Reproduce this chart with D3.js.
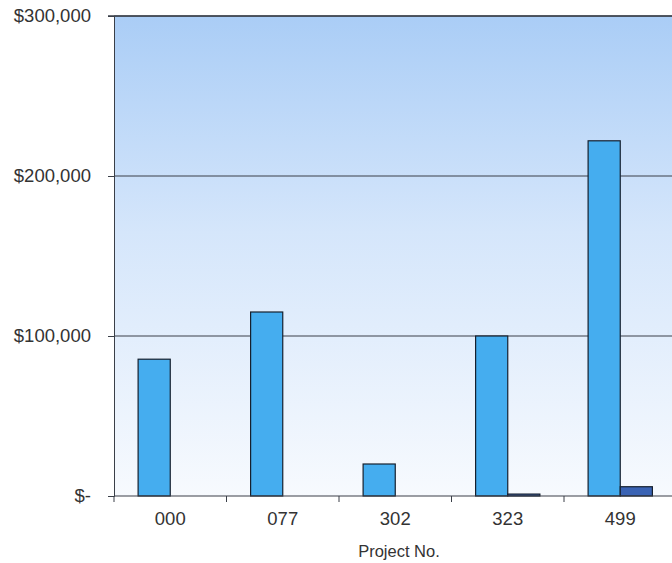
<!DOCTYPE html>
<html>
<head>
<meta charset="utf-8">
<script src="https://cdn.jsdelivr.net/npm/d3@7"></script>
<style>
body { margin: 0; background: #fff; }
svg { display: block; font-family: "Liberation Sans", Arial, sans-serif; }
</style>
</head>
<body>
<svg id="vis" width="672" height="563"></svg>
<script>
// chart data
var projects = ["000", "077", "302", "323", "499"];
var seriesA = [85500, 115000, 20000, 100000, 222000];
var seriesB = [0, 0, 0, 1200, 5800];
var yTicks = [0, 100000, 200000, 300000];

var svg = d3.select("#vis"),
	margin = {top: 16, left: 114, bottom: 67},
	width = 672,
	height = 563;

// plot area runs off the right edge of the picture
var plotRight = margin.left + 112.5 * projects.length;

var xScale = d3.scaleBand().domain(projects).range([margin.left, plotRight]);
var yScale = d3.scaleLinear().domain([0, 300000]).range([height - margin.bottom, margin.top]);

var sub = d3.scaleBand().domain(["a", "b"]).range([0, xScale.bandwidth()]).paddingOuter(0.75).paddingInner(0);

var defs = svg.append("defs");
var grad = defs.append("linearGradient").attr("id", "bg").attr("x1", 0).attr("y1", 0).attr("x2", 0).attr("y2", 1);
grad.append("stop").attr("offset", "0%").attr("stop-color", "#aacdf6");
grad.append("stop").attr("offset", "45%").attr("stop-color", "#d5e6fb");
grad.append("stop").attr("offset", "100%").attr("stop-color", "#f7fafe");

svg.append("rect")
	.attr("x", margin.left).attr("y", margin.top)
	.attr("width", plotRight - margin.left)
	.attr("height", yScale(0) - margin.top)
	.attr("fill", "url(#bg)");

// gridlines
svg.append("g").selectAll("line")
	.data(yTicks.slice(1))
	.enter().append("line")
	.attr("x1", margin.left).attr("x2", plotRight)
	.attr("y1", function(d) { return yScale(d); })
	.attr("y2", function(d) { return yScale(d); })
	.attr("stroke", "#3a3f48").attr("stroke-width", 1);

// bars
var groups = svg.append("g").selectAll("g")
	.data(projects)
	.enter().append("g")
	.attr("transform", function(d) { return "translate(" + xScale(d) + ",0)"; });

groups.append("rect")
	.attr("x", sub("a"))
	.attr("width", sub.bandwidth())
	.attr("y", function(d, i) { return yScale(seriesA[i]); })
	.attr("height", function(d, i) { return yScale(0) - yScale(seriesA[i]); })
	.attr("fill", "#45adef").attr("stroke", "#16202e").attr("stroke-width", 1.2);

groups.append("rect")
	.attr("x", sub("b"))
	.attr("width", sub.bandwidth())
	.attr("y", function(d, i) { return yScale(seriesB[i]); })
	.attr("height", function(d, i) { return yScale(0) - yScale(seriesB[i]); })
	.attr("fill", "#3a63b4").attr("stroke", "#16202e").attr("stroke-width", function(d, i) { return seriesB[i] > 0 ? 1.2 : 0; });

// axes
var yAxis = d3.axisLeft(yScale).tickValues(yTicks).tickSize(6).tickPadding(17)
	.tickFormat(function(d) { return d === 0 ? "$-" : "$" + d3.format(",")(d); });

var yg = svg.append("g").attr("transform", "translate(" + margin.left + ",0)").call(yAxis);
yg.select(".domain").attr("stroke", "#3a3f48");
yg.selectAll(".tick line").attr("stroke", "#3a3f48");
yg.selectAll("text").attr("font-size", 18.5).attr("fill", "#333").attr("font-family", "Liberation Sans, Arial, sans-serif");

var xAxis = d3.axisBottom(xScale).tickSize(0).tickPadding(16);
var xg = svg.append("g").attr("transform", "translate(0," + yScale(0) + ")").call(xAxis);
xg.select(".domain").attr("d", "M" + margin.left + ",0H" + plotRight).attr("stroke", "#3a3f48");
xg.selectAll("text").attr("font-size", 18.5).attr("fill", "#333").attr("font-family", "Liberation Sans, Arial, sans-serif");

// category separators on x axis
svg.append("g").selectAll("line")
	.data(projects)
	.enter().append("line")
	.attr("x1", function(d) { return xScale(d); })
	.attr("x2", function(d) { return xScale(d); })
	.attr("y1", yScale(0)).attr("y2", yScale(0) + 6)
	.attr("stroke", "#3a3f48");

// top border
svg.append("line")
	.attr("x1", margin.left - 6).attr("x2", plotRight)
	.attr("y1", margin.top).attr("y2", margin.top)
	.attr("stroke", "#3a3f48").attr("stroke-width", 1.5);

svg.append("text")
	.attr("x", 399).attr("y", 557)
	.attr("text-anchor", "middle")
	.attr("font-size", 16.5).attr("fill", "#333")
	.text("Project No.");
</script>
</body>
</html>
